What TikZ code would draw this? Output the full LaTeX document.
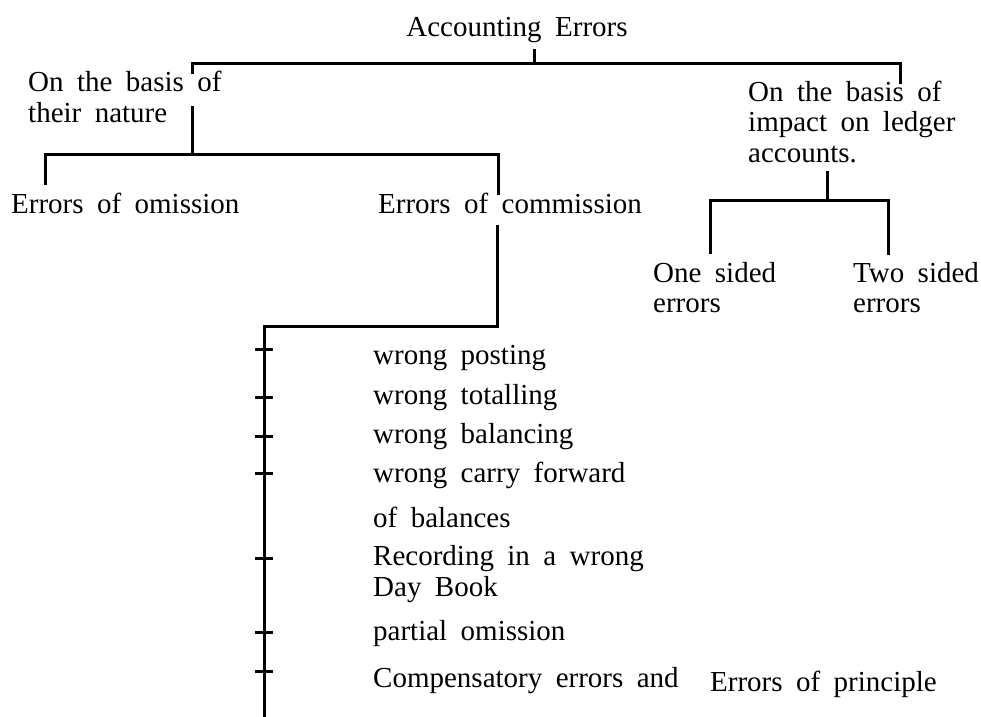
\documentclass[tikz,border=0pt]{standalone}
\usepackage{fontspec}
\setmainfont[WordSpace=1.85]{Liberation Serif}
\begin{document}
\begin{tikzpicture}[x=1pt,y=-1pt,
  lbl/.style={anchor=base west,inner sep=0pt,align=left,font=\fontsize{29}{30.5}\selectfont},
  conn/.style={line width=3pt,line cap=rect},
  tick/.style={line width=3pt}]
\useasboundingbox (0,0) rectangle (981,716);

% labels (positions are baselines of the last line)
\node[lbl,anchor=base] (root) at (517,36) {Accounting Errors};
\node[lbl] (nature) at (28,122) {On the basis of\\their nature};
\node[lbl] (impact) at (748,162) {On the basis of\\impact on ledger\\accounts.};
\node[lbl] (omission) at (11,213) {Errors of omission};
\node[lbl] (commission) at (378,213) {Errors of commission};
\node[lbl,font=\fontsize{29}{29.5}\selectfont] (onesided) at (653,312) {One sided\\errors};
\node[lbl,font=\fontsize{29}{29.5}\selectfont] (twosided) at (853,312) {Two sided\\errors};
\node[lbl] (posting) at (373,364) {wrong posting};
\node[lbl] (totalling) at (373,404) {wrong totalling};
\node[lbl] (balancing) at (373,443) {wrong balancing};
\node[lbl] (carry) at (373,482) {wrong carry forward};
\node[lbl] (ofbal) at (373,527) {of balances};
\node[lbl] (recording) at (373,596) {Recording in a wrong\\Day Book};
\node[lbl] (partial) at (373,640) {partial omission};
\node[lbl] (compens) at (373,687) {Compensatory errors and};
\node[lbl] (principle) at (710,691) {Errors of principle};

% junction coordinates
\coordinate (rtop) at (534,50);
\coordinate (rj) at (534,63);
\coordinate (aL) at (192,72);
\coordinate (aR) at (900,82);
\coordinate (nTop) at (192,107);
\coordinate (nj) at (192,154);
\coordinate (bL) at (45,183);
\coordinate (bR) at (498,193);
\coordinate (cTop) at (497,226);
\coordinate (cj) at (497,326);
\coordinate (spine) at (264,326);
\coordinate (spineEnd) at (264,716);
\coordinate (iTop) at (827,172);
\coordinate (ij) at (827,200);
\coordinate (dL) at (710,252);
\coordinate (dR) at (888,253);

% connectors
\draw[conn] (rtop) -- (rj);
\draw[conn] (aL) -- (aL |- rj) -- (aR |- rj) -- (aR);
\draw[conn] (nTop) -- (nj);
\draw[conn] (bL) -- (bL |- nj) -- (bR |- nj) -- (bR);
\draw[conn] (cTop) -- (cj) -- (spine) -- (spineEnd);
\draw[conn] (iTop) -- (ij);
\draw[conn] (dL) -- (dL |- ij) -- (dR |- ij) -- (dR);

% ticks on the spine
\foreach \t/\yy in {t1/349,t2/397,t3/436,t4/473,t5/558,t6/632,t7/671}{
  \coordinate (\t a) at (255,\yy);
  \coordinate (\t b) at (273,\yy);
  \draw[tick] (\t a) -- (\t b);
}
\end{tikzpicture}
\end{document}
